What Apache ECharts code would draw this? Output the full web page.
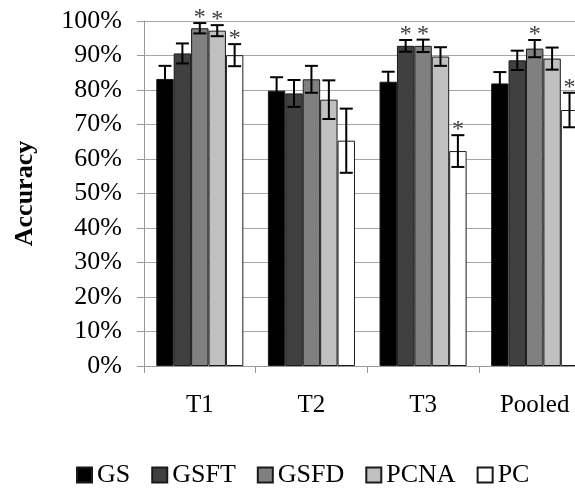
<!DOCTYPE html>
<html>
<head>
<meta charset="utf-8">
<script src="https://cdn.jsdelivr.net/npm/echarts@6/dist/echarts.min.js"></script>
<style>
html,body{margin:0;padding:0;background:#fff;}
#chart{width:575px;height:489px;}
</style>
</head>
<body>
<div id="chart"></div>
<script>
const categories = ['T1', 'T2', 'T3', 'Pooled'];
const seriesNames = ['GS', 'GSFT', 'GSFD', 'PCNA', 'PC'];
const yTickLabels = ['0%', '10%', '20%', '30%', '40%', '50%', '60%', '70%', '80%', '90%', '100%'];

const gsValues   = [83.2, 79.8, 82.4, 81.9];
const gsftValues = [90.6, 79.0, 92.8, 88.6];
const gsfdValues = [97.9, 83.1, 92.8, 92.0];
const pcnaValues = [97.2, 77.2, 89.7, 89.1];
const pcValues   = [90.1, 65.3, 62.3, 74.2];

const gsErrors   = [3.8, 3.9, 2.9, 3.3];
const gsftErrors = [2.9, 3.9, 1.7, 2.8];
const gsfdErrors = [1.5, 3.9, 1.8, 2.5];
const pcnaErrors = [1.6, 5.6, 2.7, 3.2];
const pcErrors   = [3.2, 9.3, 4.6, 5.0];

const gsSig   = [0, 0, 0, 0];
const gsftSig = [0, 0, 1, 0];
const gsfdSig = [1, 0, 1, 1];
const pcnaSig = [1, 0, 0, 0];
const pcSig   = [1, 0, 1, 1];

const values = [gsValues, gsftValues, gsfdValues, pcnaValues, pcValues];
const errors = [gsErrors, gsftErrors, gsfdErrors, pcnaErrors, pcErrors];
const sigs = [gsSig, gsftSig, gsfdSig, pcnaSig, pcSig];
const colors = ['#000000', '#404040', '#808080', '#c0c0c0', '#ffffff'];

const FONT = 'Liberation Serif';
const CAT_GAP = 0.22;
const nSeries = seriesNames.length;

const series = [];
seriesNames.forEach((name, i) => {
  series.push({
    name: name,
    type: 'bar',
    data: values[i],
    barGap: '0%',
    barCategoryGap: (CAT_GAP * 100) + '%',
    itemStyle: { color: colors[i], borderColor: '#1a1a1a', borderWidth: 1 },
    z: 2
  });
});
seriesNames.forEach((name, i) => {
  series.push({
    type: 'custom',
    name: name + '_err',
    data: categories.map((c, k) => [k, values[i][k], errors[i][k], sigs[i][k]]),
    z: 10,
    silent: true,
    clip: false,
    renderItem: function (params, api) {
      const k = api.value(0);
      const v = api.value(1);
      const e = api.value(2);
      const s = api.value(3);
      const band = api.size([1, 0])[0];
      const bw = band * (1 - CAT_GAP) / nSeries;
      const off = (i - (nSeries - 1) / 2) * bw;
      const x = api.coord([k, v])[0] + off;
      const yT = api.coord([k, v + e])[1];
      const yB = api.coord([k, v - e])[1];
      const cap = 6.5;
      const st = { stroke: '#000', lineWidth: 2 };
      const children = [
        { type: 'line', shape: { x1: x, y1: yT, x2: x, y2: yB }, style: st },
        { type: 'line', shape: { x1: x - cap, y1: yT, x2: x + cap, y2: yT }, style: st },
        { type: 'line', shape: { x1: x - cap, y1: yB, x2: x + cap, y2: yB }, style: st }
      ];
      if (s) {
        children.push({
          type: 'text',
          style: {
            text: '*', x: x, y: yT - 5,
            align: 'center', verticalAlign: 'middle',
            font: '24px "' + FONT + '"', fill: '#3a3a3a'
          }
        });
      }
      return { type: 'group', children: children };
    }
  });
});

const legendText = { fontFamily: FONT, fontSize: 26, color: '#000' };

const chart = echarts.init(document.getElementById('chart'));
chart.setOption({
  animation: false,
  backgroundColor: '#fff',
  textStyle: { fontFamily: FONT },
  grid: { left: 144, top: 21, width: 446.5, height: 345, containLabel: false, outerBoundsMode: 'none' },
  legend: {
    data: seriesNames.map(n => ({ name: n, textStyle: legendText })),
    left: 71,
    top: 457,
    itemWidth: 15,
    itemHeight: 15,
    itemGap: 21,
    icon: 'rect',
    textStyle: legendText
  },
  xAxis: {
    type: 'category',
    data: categories,
    axisLine: { lineStyle: { color: '#999', width: 1 } },
    axisTick: { show: true, length: 7, lineStyle: { color: '#999' } },
    axisLabel: { fontFamily: FONT, fontSize: 25, color: '#000', margin: 27 }
  },
  yAxis: {
    type: 'value',
    min: 0, max: 100, interval: 10,
    name: 'Accuracy',
    nameLocation: 'middle',
    nameGap: 106,
    nameTextStyle: { fontFamily: FONT, fontSize: 26, fontWeight: 'bold', color: '#000' },
    axisLine: { show: true, lineStyle: { color: '#999', width: 1 } },
    axisTick: { show: true, length: 7, lineStyle: { color: '#999' } },
    axisLabel: {
      fontFamily: FONT, fontSize: 26, color: '#000', margin: 22,
      formatter: function (v) { return yTickLabels[Math.round(v / 10)]; }
    },
    splitLine: { lineStyle: { color: '#a6a6a6', width: 1 } }
  },
  series: series
});
</script>
</body>
</html>
